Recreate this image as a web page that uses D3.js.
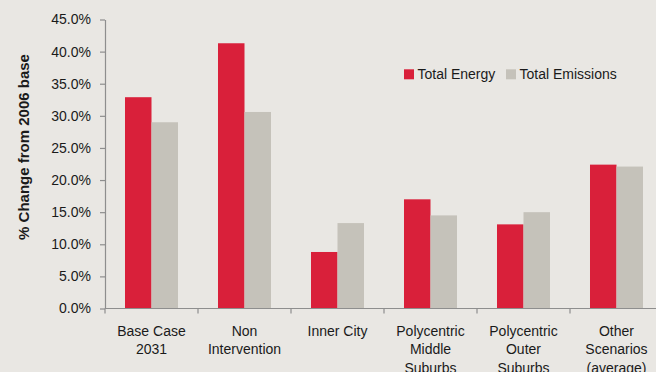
<!DOCTYPE html>
<html>
<head>
<meta charset="utf-8">
<script src="https://cdn.jsdelivr.net/npm/d3@7"></script>
<style>
  html, body { margin: 0; padding: 0; background: #e9e7e3; }
  svg { display: block; font-family: "Liberation Sans", Arial, sans-serif; }
</style>
</head>
<body>
<svg id="chart" width="656" height="372"></svg>
<script>
const categories = [
  ["Base Case", "2031"],
  ["Non", "Intervention"],
  ["Inner City"],
  ["Polycentric", "Middle", "Suburbs"],
  ["Polycentric", "Outer", "Suburbs"],
  ["Other", "Scenarios", "(average)"]
];
const seriesNames = ["Total Energy", "Total Emissions"];
const totalEnergy = [32.9, 41.3, 8.8, 17.0, 13.1, 22.4];
const totalEmissions = [29.0, 30.6, 13.3, 14.5, 15.0, 22.1];
const yTicks = [0, 5, 10, 15, 20, 25, 30, 35, 40, 45];
const yTitle = "% Change from 2006 base";
const colors = ["#d9203a", "#c5c2ba"];

const svg = d3.select("#chart");
const catIdx = categories.map((d, i) => i);

const x = d3.scaleBand().domain(catIdx).range([105, 663]).paddingInner(0).paddingOuter(0);
const bw = x.bandwidth();
const xs = d3.scaleBand().domain(seriesNames).range([bw * 0.215, bw * 0.785]).padding(0);
const y = d3.scaleLinear().domain([0, 45]).range([308.5, 19.5]);

const data = [totalEnergy, totalEmissions];

// bars
seriesNames.forEach((s, si) => {
  svg.append("g").selectAll("rect")
    .data(data[si])
    .join("rect")
    .attr("x", (d, i) => x(i) + xs(s))
    .attr("y", d => y(d))
    .attr("width", xs.bandwidth())
    .attr("height", d => y(0) - y(d))
    .attr("fill", colors[si]);
});

// y axis
const yAxis = d3.axisLeft(y).tickValues(yTicks).tickSize(5).tickSizeOuter(0)
  .tickFormat(d => d.toFixed(1) + "%");
const gy = svg.append("g").attr("transform", "translate(105,0)").call(yAxis);
gy.select(".domain").attr("stroke", "#8e8e8e").attr("stroke-width", 1.2);
gy.selectAll(".tick line").attr("stroke", "#8e8e8e").attr("stroke-width", 1.2);
gy.selectAll(".tick text").attr("x", -14).attr("font-size", 14).attr("fill", "#1a1a1a")
  .attr("font-family", "Liberation Sans, Arial, sans-serif");

// x axis line
svg.append("line").attr("x1", 105).attr("x2", 656).attr("y1", y(0)).attr("y2", y(0))
  .attr("stroke", "#8e8e8e").attr("stroke-width", 1.2);
// x ticks at band boundaries
const bounds = catIdx.map(i => x(i)).concat([x(catIdx.length - 1) + bw]);
svg.append("g").selectAll("line").data(bounds).join("line")
  .attr("x1", d => d).attr("x2", d => d)
  .attr("y1", y(0)).attr("y2", y(0) + 5)
  .attr("stroke", "#8e8e8e").attr("stroke-width", 1.2);

// x labels
const xl = svg.append("g").selectAll("text").data(categories).join("text")
  .attr("x", (d, i) => x(i) + bw / 2)
  .attr("y", 335.5)
  .attr("text-anchor", "middle")
  .attr("font-size", 14)
  .attr("fill", "#1a1a1a");
xl.each(function(lines) {
  d3.select(this).selectAll("tspan").data(lines).join("tspan")
    .attr("x", d3.select(this).attr("x"))
    .attr("dy", (d, j) => j === 0 ? 0 : 18.6)
    .text(d => d);
});

// y title
svg.append("text")
  .attr("transform", "translate(29,147) rotate(-90)")
  .attr("text-anchor", "middle")
  .attr("font-size", 15)
  .attr("font-weight", "bold")
  .attr("fill", "#1a1a1a")
  .text(yTitle);

// legend
const legX = [404, 506];
const lg = svg.append("g");
seriesNames.forEach((s, si) => {
  lg.append("rect").attr("x", legX[si]).attr("y", 69.3).attr("width", 10).attr("height", 10)
    .attr("fill", colors[si]);
  lg.append("text").attr("x", legX[si] + 13.5).attr("y", 79.2)
    .attr("font-size", 14).attr("fill", "#1a1a1a").text(s);
});
</script>
</body>
</html>
